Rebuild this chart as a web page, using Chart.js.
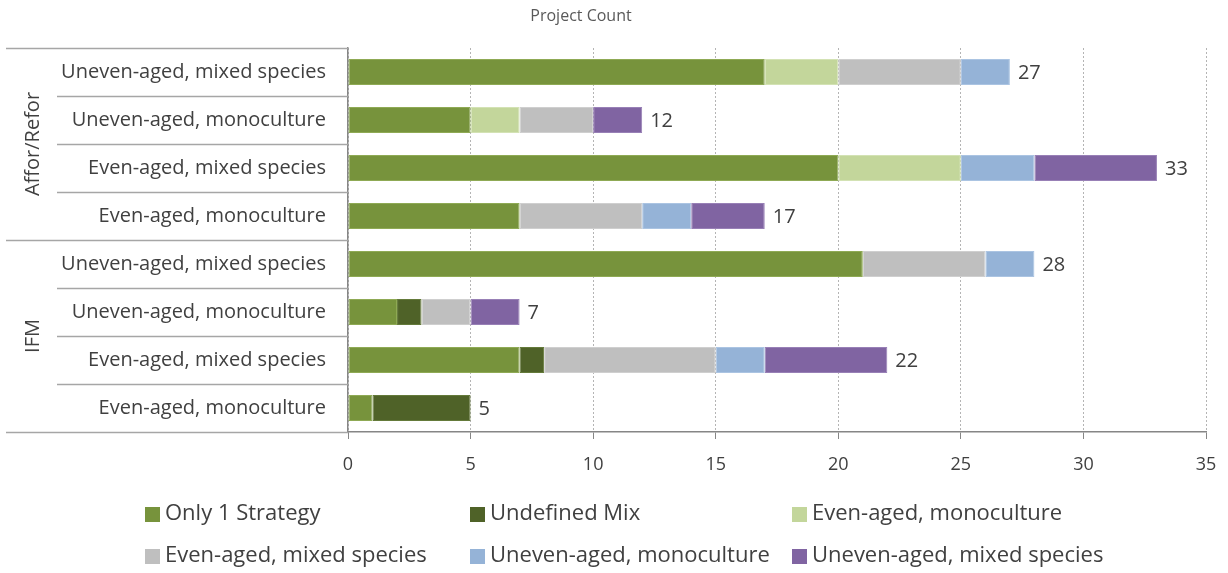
<!DOCTYPE html>
<html>
<head>
<meta charset="utf-8">
<script src="https://cdn.jsdelivr.net/npm/chart.js@4.4.1/dist/chart.umd.min.js"></script>
<style>
  html, body { margin: 0; padding: 0; background: #fff; }
  #wrap { width: 1228px; height: 573px; position: relative; }
</style>
</head>
<body>
<div id="wrap"><canvas id="c" width="1228" height="573"></canvas></div>
<script>
// Project categories (top to bottom) and their groups
const categories = [
  'Uneven-aged, mixed species', 'Uneven-aged, monoculture',
  'Even-aged, mixed species', 'Even-aged, monoculture',
  'Uneven-aged, mixed species', 'Uneven-aged, monoculture',
  'Even-aged, mixed species', 'Even-aged, monoculture'
];
const groupNames = ['Affor/Refor', 'IFM'];
const groupSizes = [4, 4];

// Series values (project counts per strategy mix)
const onlyOne      = [17, 5, 20, 7, 21, 2, 7, 1];
const undefinedMix = [0, 0, 0, 0, 0, 1, 1, 4];
const evenMono     = [3, 2, 5, 0, 0, 0, 0, 0];
const evenMixed    = [5, 3, 0, 5, 5, 2, 7, 0];
const unevenMono   = [2, 0, 3, 2, 2, 0, 2, 0];
const unevenMixed  = [0, 2, 5, 3, 0, 2, 5, 0];

const seriesNames = ['Only 1 Strategy', 'Undefined Mix', 'Even-aged, monoculture',
  'Even-aged, mixed species', 'Uneven-aged, monoculture', 'Uneven-aged, mixed species'];
const seriesValues = [onlyOne, undefinedMix, evenMono, evenMixed, unevenMono, unevenMixed];
const seriesColors = ['#77933C', '#4F6228', '#C3D69B', '#BFBFBF', '#95B3D7', '#8064A2'];
const seriesBorders = ['#8FAA55', '#647A3A', '#D3E2B4', '#CFCFCF', '#ABC4E2', '#9880B6'];

const xTicks = [0, 5, 10, 15, 20, 25, 30, 35];
const titleText = 'Project Count';

const FONT = "'Open Sans', 'DejaVu Sans', sans-serif";
const TEXT = '#404040';
const AXIS = '#868686';

const totals = categories.map((_, i) => seriesValues.reduce((s, arr) => s + arr[i], 0));

const datasets = seriesNames.map((name, k) => ({
  label: name,
  data: seriesValues[k],
  backgroundColor: seriesColors[k],
  borderColor: seriesBorders[k],
  borderWidth: ctx => (ctx.raw ? 1 : 0),
  borderSkipped: false,
  categoryPercentage: 1,
  barPercentage: 0.54
}));

// Title, row separators, group labels, totals and legend
const decor = {
  id: 'decor',
  afterDraw(chart) {
    const ctx = chart.ctx;
    const y = chart.scales.y;
    const x = chart.scales.x;
    const area = chart.chartArea;
    const step = (y.getPixelForValue(1) - y.getPixelForValue(0));
    ctx.save();

    // title
    ctx.fillStyle = '#595959';
    ctx.font = '16px ' + FONT;
    ctx.textAlign = 'center';
    ctx.textBaseline = 'middle';
    ctx.fillText(titleText, 581, 16);

    // separators in the category-label column
    ctx.strokeStyle = '#A6A6A6';
    ctx.lineWidth = 1.5;
    const groupStarts = [];
    let acc = 0;
    groupSizes.forEach(n => { groupStarts.push(acc); acc += n; });
    for (let i = 0; i <= categories.length; i++) {
      const py = Math.round(y.getPixelForValue(i) - step / 2) + 0.5;
      const isGroupEdge = i === categories.length || groupStarts.includes(i);
      ctx.beginPath();
      ctx.moveTo(isGroupEdge ? 6 : 57, py);
      ctx.lineTo(area.left, py);
      ctx.stroke();
    }

    // group labels (rotated)
    ctx.fillStyle = TEXT;
    ctx.font = '20px ' + FONT;
    groupNames.forEach((g, gi) => {
      const first = groupStarts[gi];
      const last = first + groupSizes[gi] - 1;
      const cy = (y.getPixelForValue(first) + y.getPixelForValue(last)) / 2;
      ctx.save();
      ctx.translate(33, cy);
      ctx.rotate(-Math.PI / 2);
      ctx.textAlign = 'center';
      ctx.textBaseline = 'middle';
      ctx.fillText(g, 0, 0);
      ctx.restore();
    });

    // totals at bar ends
    ctx.font = '20px ' + FONT;
    ctx.textAlign = 'left';
    ctx.textBaseline = 'middle';
    totals.forEach((t, i) => {
      ctx.fillText(String(t), x.getPixelForValue(t) + 8, y.getPixelForValue(i) + 1);
    });

    // legend: two rows of three
    const colX = [145, 470, 792];
    const rowY = [514, 556];
    ctx.font = '22px ' + FONT;
    chart.data.datasets.forEach((ds, k) => {
      const cx = colX[k % 3];
      const cy = rowY[Math.floor(k / 3)];
      ctx.fillStyle = ds.backgroundColor;
      ctx.fillRect(cx, cy - 7, 15, 15);
      ctx.fillStyle = TEXT;
      ctx.fillText(ds.label, cx + 20, cy);
    });

    ctx.restore();
  }
};

new Chart(document.getElementById('c'), {
  type: 'bar',
  data: { labels: categories, datasets },
  options: {
    indexAxis: 'y',
    responsive: false,
    animation: false,
    layout: { padding: { top: 48, right: 22, left: 0, bottom: 0 } },
    plugins: { legend: { display: false }, title: { display: false }, tooltip: { enabled: false } },
    scales: {
      x: {
        stacked: true,
        min: 0,
        max: 35,
        afterBuildTicks: s => { s.ticks = xTicks.map(v => ({ value: v })); },
        afterFit: s => { s.height = 141; s.paddingLeft = 0; s.paddingRight = 0; },
        grid: {
          color: '#B4B4B4',
          lineWidth: 1,
          tickColor: AXIS,
          tickLength: 7,
          drawOnChartArea: true
        },
        border: { display: true, color: AXIS, width: 1.5, dash: [2, 2] },
        ticks: { color: TEXT, font: { family: FONT, size: 18 }, padding: 15 }
      },
      y: {
        stacked: true,
        afterFit: s => { s.width = 348; s.paddingTop = 0; s.paddingBottom = 0; },
        grid: { display: false, drawTicks: false },
        border: { display: true, color: AXIS, width: 1.5 },
        ticks: { color: TEXT, font: { family: FONT, size: 20 }, padding: 22 }
      }
    }
  },
  plugins: [decor]
});
</script>
</body>
</html>
